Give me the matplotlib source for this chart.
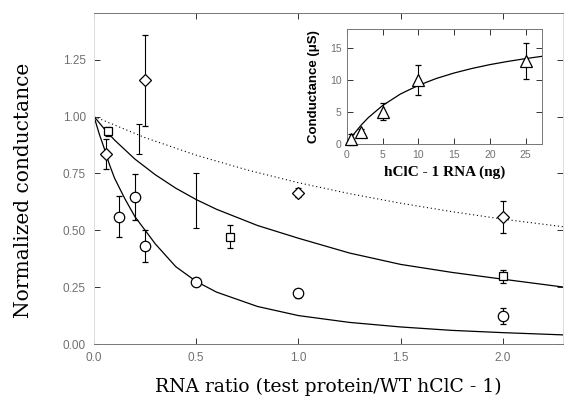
import numpy as np
import matplotlib
matplotlib.use("Agg")
from matplotlib import pyplot as plt

# main panel: normalized conductance vs RNA ratio
dia_x = [0.057, 0.25, 1.0, 2.0]
dia_y = [0.836, 1.16, 0.665, 0.56]
dia_err = [0.065, 0.20, 0.02, 0.07]

sq_x = [0.067, 0.667, 2.0]
sq_y = [0.935, 0.472, 0.297]
sq_err = [0.02, 0.05, 0.03]
# square-series bars where the marker is not visible
sqbar_x = [0.22, 0.5]
sqbar_y = [0.90, 0.63]
sqbar_err = [0.065, 0.12]

circ_x = [0.12, 0.2, 0.25, 0.5, 1.0, 2.0]
circ_y = [0.56, 0.646, 0.43, 0.273, 0.224, 0.124]
circ_err = [0.09, 0.10, 0.07, 0.015, 0.02, 0.035]

# fitted curves
fit_dot_x = [0, 0.25, 0.5, 0.75, 1.0, 1.25, 1.5, 1.75, 2.0, 2.3]
fit_dot_y = [1.0, 0.907, 0.830, 0.765, 0.709, 0.661, 0.619, 0.582, 0.549, 0.515]
fit_mid_x = [0, 0.05, 0.1, 0.2, 0.3, 0.4, 0.5, 0.6, 0.8, 1.0, 1.25, 1.5, 1.75, 2.0, 2.3]
fit_mid_y = [1.0, 0.946, 0.897, 0.813, 0.744, 0.685, 0.635, 0.592, 0.521, 0.465,
             0.40, 0.35, 0.315, 0.285, 0.25]
fit_low_x = [0, 0.025, 0.05, 0.075, 0.1, 0.15, 0.2, 0.3, 0.4, 0.5, 0.6, 0.8, 1.0,
             1.25, 1.5, 1.75, 2.0, 2.3]
fit_low_y = [1.0, 0.925, 0.86, 0.79, 0.73, 0.64, 0.56, 0.44, 0.34, 0.275, 0.228,
             0.165, 0.125, 0.095, 0.075, 0.06, 0.05, 0.04]

# inset: conductance vs injected RNA
tri_x = [0.5, 2.0, 5.0, 10.0, 25.0]
tri_y = [0.73, 1.9, 5.05, 10.0, 13.0]
tri_err = [0.9, 0.5, 1.35, 2.4, 2.8]
ins_fit_x = [0, 1, 2, 3, 5, 7.5, 10, 12.5, 15, 17.5, 20, 22.5, 25, 27.3]
ins_fit_y = [0, 1.61, 2.98, 4.15, 6.04, 7.84, 9.18, 10.26, 11.12, 11.83, 12.43,
             12.93, 13.37, 13.73]

serif_wide = ['DejaVu Serif']
serif = ['Liberation Serif', 'DejaVu Serif']
sans = ['Liberation Sans', 'DejaVu Sans']
tick_col = '#707070'


def style(ax, size, pad):
  ax.tick_params(direction='in', top=True, right=True, length=4, width=0.7,
                 labelsize=size, labelcolor=tick_col, color='#333333', pad=pad)
  for lab in ax.get_xticklabels() + ax.get_yticklabels():
    lab.set_family(sans)
  for s in ax.spines.values():
    s.set_linewidth(0.7)
    s.set_color('#777777')


def points(ax, x, y, err, marker, ms):
  ax.errorbar(x, y, yerr=err, fmt=marker, ms=ms, mfc='white', mec='black',
              mew=0.9, ecolor='black', elinewidth=0.8, capsize=2.2, capthick=0.8,
              zorder=3, clip_on=False)


fig = plt.figure(figsize=(5.64, 3.99), dpi=100)
ax = fig.add_axes([0.1667, 0.1378, 0.8316, 0.8296])

ax.plot(fit_dot_x, fit_dot_y, color='black', lw=0.8, ls=(0, (1, 2.5)))
ax.plot(fit_mid_x, fit_mid_y, color='black', lw=0.9)
ax.plot(fit_low_x, fit_low_y, color='black', lw=0.9)

points(ax, dia_x, dia_y, dia_err, 'D', 6.5)
points(ax, sq_x, sq_y, sq_err, 's', 5.5)
points(ax, circ_x, circ_y, circ_err, 'o', 7.5)
ax.errorbar(sqbar_x, sqbar_y, yerr=sqbar_err, fmt='none', ecolor='black',
            elinewidth=0.8, capsize=2.2, capthick=0.8)

ax.set_xlim(0, 2.295)
ax.set_ylim(0, 1.455)
ax.set_xticks([0.0, 0.5, 1.0, 1.5, 2.0])
ax.set_xticklabels(['0.0', '0.5', '1.0', '1.5', '2.0'])
ax.set_yticks([0.0, 0.25, 0.5, 0.75, 1.0, 1.25])
ax.set_yticklabels(['0.00', '0.25', '0.50', '0.75', '1.00', '1.25'])
style(ax, 8.5, 6)
ax.spines['left'].set_color('#dddddd')
ax.spines['right'].set_color('#dddddd')
ax.set_xlabel('RNA ratio (test protein/WT hClC - 1)', family=serif_wide,
              fontsize=13.5, labelpad=10)
ax.set_ylabel('Normalized conductance', family=serif_wide, fontsize=14.5)
ax.yaxis.set_label_coords(-0.13, 0.465)

ins = fig.add_axes([0.6152, 0.639, 0.3457, 0.2882])
ins.plot(ins_fit_x, ins_fit_y, color='black', lw=0.9)
points(ins, tri_x, tri_y, tri_err, '^', 8)
ins.set_xlim(0, 27.3)
ins.set_ylim(0, 18)
ins.set_xticks([0, 5, 10, 15, 20, 25])
ins.set_yticks([0, 5, 10, 15])
style(ins, 7.5, 4)
ins.set_xlabel('hClC - 1 RNA (ng)', family=serif, fontsize=11, fontweight='bold',
               labelpad=4)
ins.set_ylabel('Conductance (μS)', family=sans, fontsize=9.5, fontweight='bold',
               labelpad=7)

fig.savefig('out.png', dpi=100)
